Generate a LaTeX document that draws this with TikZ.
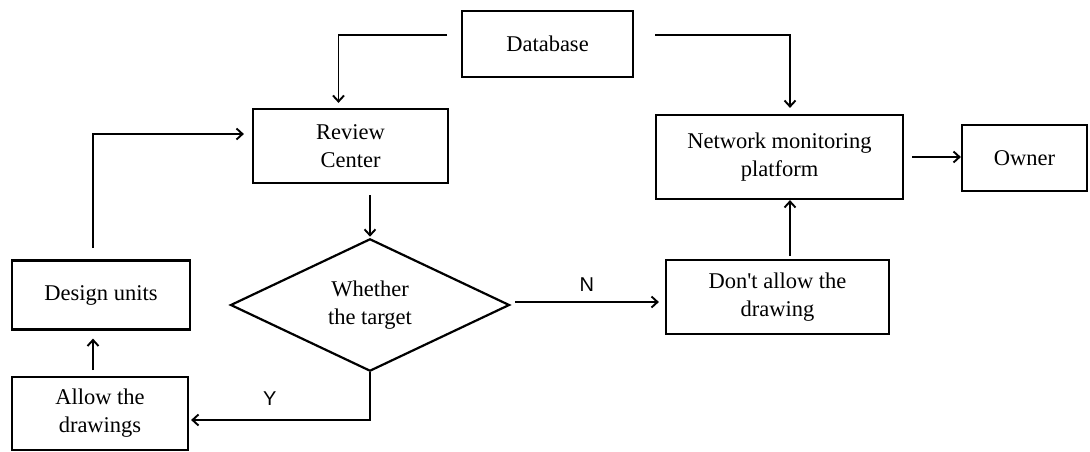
\documentclass[tikz,border=0pt]{standalone}
\usepackage{fontspec}
\setmainfont{Liberation Serif}
\newfontfamily\labelfont{Liberation Sans}
\usetikzlibrary{shapes.geometric,arrows.meta}
\begin{document}
\begin{tikzpicture}[x=1pt,y=-1pt,
  every node/.style={font=\fontsize{22.5}{28}\selectfont, align=center, inner sep=0pt},
  box/.style={draw, line width=2.2pt, rectangle},
  choice/.style={draw, line width=2.2pt, diamond},
  flow/.style={line width=1.9pt, -{Straight Barb[length=6pt,width=11pt,line width=1.9pt]}},
  yn/.style={font=\labelfont\fontsize{20}{22}\selectfont}]
\useasboundingbox (0,0) rectangle (1090,452);
% process boxes
\node[box, minimum width=171pt, minimum height=66pt] (db) at (547.5,44) {Database};
\node[box, minimum width=195pt, minimum height=74pt] (rc) at (350.5,146) {Review\\Center};
\node[box, minimum width=247pt, minimum height=84pt] (nmp) at (779.5,157) {Network monitoring\\platform};
\node[box, minimum width=125pt, minimum height=66pt] (own) at (1024.5,158) {Owner};
\node[box, minimum width=178pt, minimum height=69pt] (du) at (101,295) {Design units};
\node[choice, minimum width=279pt, minimum height=130pt] (dec) at (370,305) {Whether\\the target};
\node[box, minimum width=223pt, minimum height=74pt] (no) at (777.5,297) {Don\textquotesingle t allow the\\drawing};
\node[box, minimum width=176pt, minimum height=73pt] (yes) at (100,413.5) {Allow the\\drawings};
% free ends of the connectors
\coordinate (dbL) at (447,35);
\coordinate (dbR) at (655,35);
\coordinate (rcB) at (370,195);
\coordinate (duT) at (93,248);
\coordinate (yesT) at (93,370);
\coordinate (noT) at (790,256);
\coordinate (nmpR) at (912,157);
\coordinate (decR) at (515,302);
% connectors
\draw[flow] (dbL) -| ([xshift=-12pt,yshift=5pt]rc.north);
\draw[flow] (dbR) -| ([xshift=10.5pt,yshift=6pt]nmp.north);
\draw[flow] (rcB) -- ([yshift=1pt]dec.north);
\draw[flow] (decR) -- node[yn, above=10pt] {N} ([xshift=-6pt]decR -| no.west);
\draw[flow] (noT) -- (noT |- nmp.south);
\draw[flow] (nmpR) -- (nmpR -| own.west);
\draw[flow] (dec.south) |- node[yn, pos=0.78, above=14pt] {Y} ([xshift=2pt,yshift=-6.5pt]yes.east);
\draw[flow] (yesT) -- ([yshift=-8pt]yesT |- du.south);
\draw[flow] (duT) |- ([xshift=-8pt,yshift=12pt]rc.west);
\end{tikzpicture}
\end{document}
